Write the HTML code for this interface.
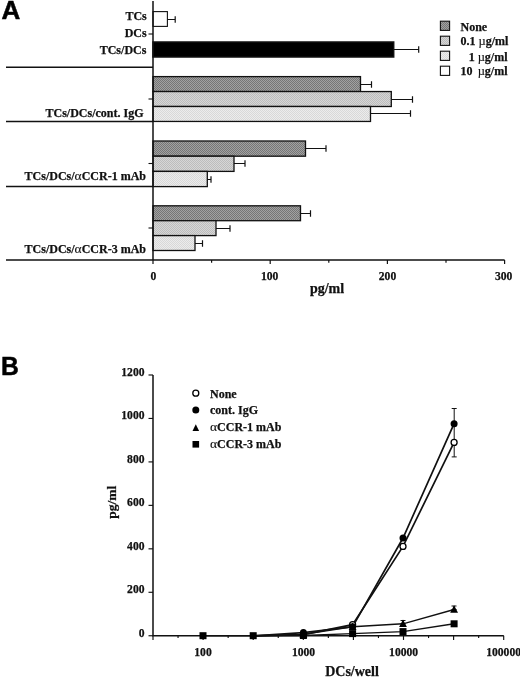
<!DOCTYPE html>
<html><head><meta charset="utf-8"><title>Figure</title>
<style>
html,body{margin:0;padding:0;background:#fff;}
svg{display:block}
text{font-family:"Liberation Serif","Times New Roman",serif;font-weight:bold;fill:#111;stroke:#111;stroke-width:0.25px;}
.t{font-size:12px}
.ax{font-size:14px}
.n{font-size:11.6px}
.g{font-weight:normal;font-size:13.5px;stroke-width:0.1px}
.m{font-weight:normal;font-size:12.5px;stroke-width:0.15px}
.pl{font-family:"Liberation Sans",Arial,sans-serif;font-size:26px;font-weight:bold;fill:#000;stroke:#000;stroke-width:0.5px}
.l{stroke:#111;stroke-width:1.5;fill:none}
.b{stroke:#111;stroke-width:1.5}
</style></head><body>
<svg width="520" height="677" viewBox="0 0 520 677">
<rect width="520" height="677" fill="#fff"/>

<text class="pl" x="1.6" y="19.4">A</text>
<defs>
<pattern id="ptnone" width="2" height="2" patternUnits="userSpaceOnUse"><rect width="2" height="2" fill="#a2a2a2"/><rect width="1" height="1" fill="#767676"/><rect x="1" y="1" width="1" height="1" fill="#767676"/></pattern>
<pattern id="ptp1" width="2" height="2" patternUnits="userSpaceOnUse"><rect width="2" height="2" fill="#d6d6d6"/><rect width="1" height="1" fill="#bcbcbc"/><rect x="1" y="1" width="1" height="1" fill="#bcbcbc"/></pattern>
<pattern id="ptp2" width="2" height="2" patternUnits="userSpaceOnUse"><rect width="2" height="2" fill="#ececec"/><rect width="1" height="1" fill="#d8d8d8"/><rect x="1" y="1" width="1" height="1" fill="#d8d8d8"/></pattern>
</defs>
<rect class="b" style="stroke-width:1.1" x="153.0" y="11.60" width="14.40" height="14.80" fill="#fdfdfd"/>
<path class="l" style="stroke-width:1.2" d="M167.4 19.50H175.2M175.2 16.30V22.70"/>
<rect class="b" style="stroke-width:1.5" x="153.0" y="42.00" width="240.70" height="15.00" fill="#000"/>
<path class="l" style="stroke-width:1.2" d="M393.7 49.50H418.7M418.7 46.30V52.70"/>
<rect class="b" style="stroke-width:1.3" x="153.0" y="76.60" width="207.50" height="14.95" fill="url(#ptnone)"/>
<path class="l" style="stroke-width:1.2" d="M360.5 84.50H371.5M371.5 81.30V87.70"/>
<rect class="b" style="stroke-width:1.3" x="153.0" y="91.55" width="238.30" height="14.95" fill="url(#ptp1)"/>
<path class="l" style="stroke-width:1.2" d="M391.3 99.50H412.5M412.5 96.30V102.70"/>
<rect class="b" style="stroke-width:1.3" x="153.0" y="106.50" width="217.50" height="14.95" fill="url(#ptp2)"/>
<path class="l" style="stroke-width:1.2" d="M370.5 113.50H410.5M410.5 110.30V116.70"/>
<rect class="b" style="stroke-width:1.3" x="153.0" y="141.00" width="152.50" height="15.20" fill="url(#ptnone)"/>
<path class="l" style="stroke-width:1.2" d="M305.5 148.50H326M326 145.30V151.70"/>
<rect class="b" style="stroke-width:1.3" x="153.0" y="156.20" width="81.00" height="15.20" fill="url(#ptp1)"/>
<path class="l" style="stroke-width:1.2" d="M234 163.50H245M245 160.30V166.70"/>
<rect class="b" style="stroke-width:1.3" x="153.0" y="171.40" width="54.30" height="15.20" fill="url(#ptp2)"/>
<path class="l" style="stroke-width:1.2" d="M207.3 179.50H211M211 176.30V182.70"/>
<rect class="b" style="stroke-width:1.3" x="153.0" y="205.80" width="147.50" height="14.90" fill="url(#ptnone)"/>
<path class="l" style="stroke-width:1.2" d="M300.5 213.50H310.5M310.5 210.30V216.70"/>
<rect class="b" style="stroke-width:1.3" x="153.0" y="220.70" width="63.00" height="14.90" fill="url(#ptp1)"/>
<path class="l" style="stroke-width:1.2" d="M216 228.50H230M230 225.30V231.70"/>
<rect class="b" style="stroke-width:1.3" x="153.0" y="235.60" width="42.00" height="14.90" fill="url(#ptp2)"/>
<path class="l" style="stroke-width:1.2" d="M195 243.50H202.5M202.5 240.30V246.70"/>
<path class="l" d="M153.0 1V260.0"/>
<path class="l" d="M153.0 260.0H504.6"/>
<path class="l" style="stroke-width:1.2" d="M153.0 260.0V264.0"/>
<path class="l" style="stroke-width:1.2" d="M211.6 260.0V262.8"/>
<path class="l" style="stroke-width:1.2" d="M270.2 260.0V264.0"/>
<path class="l" style="stroke-width:1.2" d="M328.8 260.0V262.8"/>
<path class="l" style="stroke-width:1.2" d="M387.4 260.0V264.0"/>
<path class="l" style="stroke-width:1.2" d="M446.0 260.0V262.8"/>
<path class="l" style="stroke-width:1.2" d="M504.6 260.0V264.0"/>
<path class="l" style="stroke-width:1.1" d="M148.5 34H153.0"/>
<path class="l" style="stroke-width:1.1" d="M148.5 99H153.0"/>
<path class="l" style="stroke-width:1.1" d="M148.5 163.5H153.0"/>
<path class="l" style="stroke-width:1.1" d="M148.5 228H153.0"/>
<path class="l" d="M6 67.3H153.0"/>
<path class="l" d="M6 121.5H153.0"/>
<path class="l" d="M6 186.6H153.0"/>
<path class="l" d="M6 260.0H153.0"/>
<text class="t" x="146.8" y="19.6" text-anchor="end">TCs</text>
<text class="t" x="146.7" y="36.9" text-anchor="end">DCs</text>
<text class="t" x="146.4" y="54" text-anchor="end">TCs/DCs</text>
<text class="t" x="143.5" y="116.7" text-anchor="end">TCs/DCs/cont. IgG</text>
<text class="t" x="146" y="180.4" text-anchor="end">TCs/DCs/<tspan class="g">α</tspan>CCR-1 mAb</text>
<text class="t" x="146" y="253" text-anchor="end">TCs/DCs/<tspan class="g">α</tspan>CCR-3 mAb</text>
<text class="t n" x="153.4" y="279.5" text-anchor="middle">0</text>
<text class="t n" x="269.6" y="279.5" text-anchor="middle">100</text>
<text class="t n" x="387.5" y="279.5" text-anchor="middle">200</text>
<text class="t n" x="503.7" y="279.5" text-anchor="middle">300</text>
<text class="ax" x="327" y="293" text-anchor="middle">pg/ml</text>
<rect class="b" style="stroke-width:1.1" x="440.4" y="21.2" width="9.2" height="9.2" fill="url(#ptnone)"/>
<rect class="b" style="stroke-width:1.1" x="440.4" y="36.2" width="9.2" height="9.2" fill="url(#ptp1)"/>
<rect class="b" style="stroke-width:1.1" x="440.4" y="51.2" width="9.2" height="9.2" fill="url(#ptp2)"/>
<rect class="b" style="stroke-width:1.1" x="440.4" y="66.2" width="9.2" height="9.2" fill="#fdfdfd"/>
<text class="t" x="460.5" y="30.5">None</text>
<text class="t" x="460.5" y="45.3">0.1 <tspan class="m">µ</tspan>g/ml</text>
<text class="t" x="507.5" y="60.7" text-anchor="end">1 <tspan class="m">µ</tspan>g/ml</text>
<text class="t" x="460.5" y="75.3">10</text><text class="t" x="507.5" y="75.3" text-anchor="end"><tspan class="m">µ</tspan>g/ml</text>
<text class="pl" transform="translate(1.1,374.8) scale(0.95,1.02)">B</text>
<path class="l" d="M153.0 375V635.75H503.8"/>
<path class="l" style="stroke-width:1.15" d="M148.5 635.75H153.0"/>
<text class="t n" x="144.5" y="636.65" text-anchor="end">0</text>
<path class="l" style="stroke-width:1.15" d="M148.5 592.29H153.0"/>
<text class="t n" x="144.5" y="593.19" text-anchor="end">200</text>
<path class="l" style="stroke-width:1.15" d="M148.5 548.83H153.0"/>
<text class="t n" x="144.5" y="549.73" text-anchor="end">400</text>
<path class="l" style="stroke-width:1.15" d="M148.5 505.37H153.0"/>
<text class="t n" x="144.5" y="506.27" text-anchor="end">600</text>
<path class="l" style="stroke-width:1.15" d="M148.5 461.91H153.0"/>
<text class="t n" x="144.5" y="462.81" text-anchor="end">800</text>
<path class="l" style="stroke-width:1.15" d="M148.5 418.45H153.0"/>
<text class="t n" x="144.5" y="419.35" text-anchor="end">1000</text>
<path class="l" style="stroke-width:1.15" d="M148.5 374.99H153.0"/>
<text class="t n" x="144.5" y="375.89" text-anchor="end">1200</text>
<path class="l" style="stroke-width:1.15" d="M153.00 635.75V639.95"/>
<path class="l" style="stroke-width:1.15" d="M178.05 635.75V638.05"/>
<path class="l" style="stroke-width:1.15" d="M203.10 635.75V639.95"/>
<path class="l" style="stroke-width:1.15" d="M228.15 635.75V638.05"/>
<path class="l" style="stroke-width:1.15" d="M253.20 635.75V639.95"/>
<path class="l" style="stroke-width:1.15" d="M278.25 635.75V638.05"/>
<path class="l" style="stroke-width:1.15" d="M303.30 635.75V639.95"/>
<path class="l" style="stroke-width:1.15" d="M328.35 635.75V638.05"/>
<path class="l" style="stroke-width:1.15" d="M353.40 635.75V639.95"/>
<path class="l" style="stroke-width:1.15" d="M378.45 635.75V638.05"/>
<path class="l" style="stroke-width:1.15" d="M403.50 635.75V639.95"/>
<path class="l" style="stroke-width:1.15" d="M428.55 635.75V638.05"/>
<path class="l" style="stroke-width:1.15" d="M453.60 635.75V639.95"/>
<path class="l" style="stroke-width:1.15" d="M478.65 635.75V638.05"/>
<path class="l" style="stroke-width:1.15" d="M503.70 635.75V639.95"/>
<text class="t n" x="203" y="655.5" text-anchor="middle">100</text>
<text class="t n" x="303.5" y="655.5" text-anchor="middle">1000</text>
<text class="t n" x="403.6" y="655.5" text-anchor="middle">10000</text>
<text class="t n" x="503.6" y="655.5" text-anchor="middle">100000</text>
<text class="ax" x="352" y="675.8" text-anchor="middle">DCs/well</text>
<text class="ax" style="font-size:13.5px" transform="translate(115.5,502.3) rotate(-90)" text-anchor="middle">pg/ml</text>
<polyline class="l" style="stroke-width:1.4" points="203.0,635.8 253.2,635.8 303.4,635.5 352.6,633.6 403.0,631.6 454.1,623.8"/>
<polyline class="l" style="stroke-width:1.4" points="253.2,635.8 303.4,634.4 352.6,626.8 403.0,623.8 454.1,609.5"/>
<polyline class="l" style="stroke-width:1.7" points="253.2,635.8 303.4,634.7 352.6,624.7 403.0,546.4 454.1,442.4"/>
<polyline class="l" style="stroke-width:1.7" points="253.2,635.8 303.4,632.6 352.6,626.8 403.0,538.0 454.1,423.7"/>
<path class="l" style="stroke-width:1" d="M454.2 408.5V442.4M451.7 408.5h5M451.7 442.4h5"/>
<path class="l" style="stroke-width:1" d="M454.2 442.4V456.9M451.7 442.4h5M451.7 456.9h5"/>
<path class="l" style="stroke-width:1" d="M454.0 606.0V609.5M451.5 606.0h5M451.5 609.5h5"/>
<path class="l" style="stroke-width:1" d="M403 620.5V623.8M400.5 620.5h5M400.5 623.8h5"/>
<circle cx="303.4" cy="634.7" r="3.0" fill="#fff" stroke="#000" stroke-width="1.3"/>
<circle cx="352.6" cy="624.7" r="3.0" fill="#fff" stroke="#000" stroke-width="1.3"/>
<circle cx="403.0" cy="546.4" r="3.0" fill="#fff" stroke="#000" stroke-width="1.3"/>
<circle cx="454.1" cy="442.4" r="3.0" fill="#fff" stroke="#000" stroke-width="1.3"/>
<circle cx="303.4" cy="632.6" r="3.5" fill="#000"/>
<circle cx="352.6" cy="626.8" r="3.5" fill="#000"/>
<circle cx="403.0" cy="538.0" r="3.5" fill="#000"/>
<circle cx="454.1" cy="423.7" r="3.5" fill="#000"/>
<path d="M303.4 630.1L307.3 637.7H299.5Z" fill="#000"/>
<path d="M352.6 622.5L356.5 630.1H348.7Z" fill="#000"/>
<path d="M403.0 619.5L406.9 627.1H399.1Z" fill="#000"/>
<path d="M454.1 605.2L458.0 612.8H450.2Z" fill="#000"/>
<rect x="199.5" y="632.2" width="7" height="7" fill="#000"/>
<rect x="249.7" y="632.2" width="7" height="7" fill="#000"/>
<rect x="299.9" y="632.0" width="7" height="7" fill="#000"/>
<rect x="349.1" y="630.1" width="7" height="7" fill="#000"/>
<rect x="399.5" y="628.1" width="7" height="7" fill="#000"/>
<rect x="450.6" y="620.3" width="7" height="7" fill="#000"/>
<circle cx="195.8" cy="393.2" r="3.0" fill="#fff" stroke="#000" stroke-width="1.3"/>
<circle cx="195.8" cy="410.0" r="3.5" fill="#000"/>
<path d="M195.8 424.3L199.1 431H192.5Z" fill="#000"/>
<rect x="192.5" y="441" width="6.6" height="6.6" fill="#000"/>
<text class="t" x="210" y="397.5">None</text>
<text class="t" x="210" y="413.8">cont. IgG</text>
<text class="t" x="210" y="431"><tspan class="g">α</tspan>CCR-1 mAb</text>
<text class="t" x="210" y="447.5"><tspan class="g">α</tspan>CCR-3 mAb</text>
</svg></body></html>
